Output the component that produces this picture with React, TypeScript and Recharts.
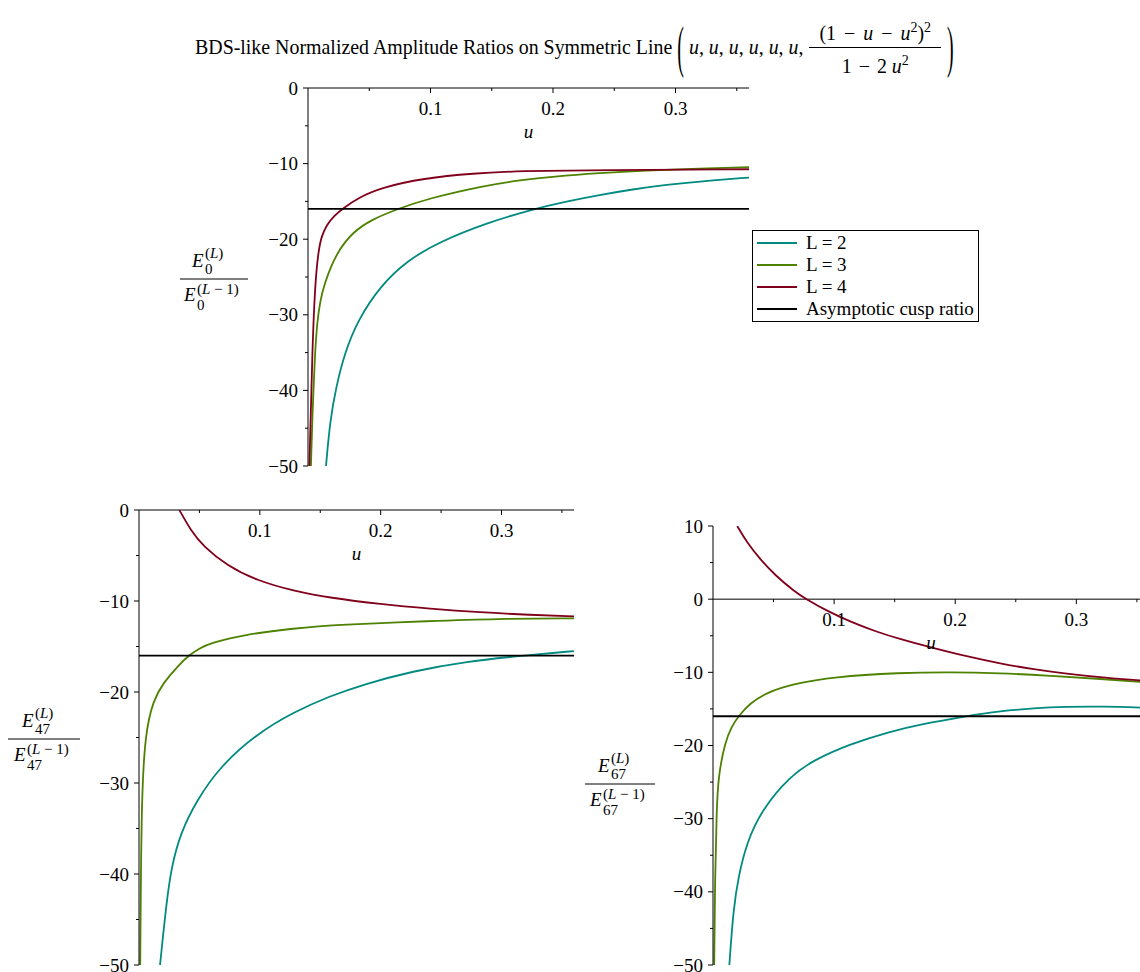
import React from 'react'
import { LineChart, Line, XAxis, YAxis, ReferenceLine, Legend } from 'recharts'

const FONT = '"Liberation Serif", "Times New Roman", serif'
const U_MAX = 0.36
const U_TICKS = [0.05, 0.1, 0.15, 0.2, 0.25, 0.3, 0.35]
const Y_TICKS_50_0 = [-50, -45, -40, -35, -30, -25, -20, -15, -10, -5, 0]
const Y_TICKS_50_10 = [-50, -45, -40, -35, -30, -25, -20, -15, -10, -5, 0, 5, 10]
const ASYMPTOTE = -16
const ASYM_U = [0, U_MAX]

const SERIES_NAMES = ['L = 2', 'L = 3', 'L = 4', 'Asymptotic cusp ratio']
const COLORS = ['#008a80', '#4d8200', '#80001c', '#000000']

// E_0 panel
const e0_L2_u = [0.0147, 0.018, 0.023, 0.03, 0.041, 0.059, 0.081, 0.108, 0.146, 0.184, 0.211, 0.238, 0.265, 0.293, 0.32, 0.36]
const e0_L2_v = [-50, -44.0, -39.5, -35.0, -30.6, -26.2, -22.8, -20.3, -17.85, -16.0, -15.0, -14.15, -13.4, -12.8, -12.35, -11.85]
const e0_L3_u = [0.0024, 0.0035, 0.0057, 0.0076, 0.01, 0.013, 0.0234, 0.037, 0.052, 0.0724, 0.097, 0.146, 0.173, 0.2, 0.238, 0.275, 0.32, 0.36]
const e0_L3_v = [-50, -43.7, -34.9, -30.8, -28.2, -26.0, -21.7, -19.0, -17.4, -16.05, -14.65, -12.85, -12.2, -11.72, -11.25, -10.92, -10.65, -10.47]
const e0_L4_u = [0.0011, 0.0022, 0.0035, 0.0057, 0.0084, 0.011, 0.0153, 0.0212, 0.0288, 0.0411, 0.0602, 0.0941, 0.135, 0.173, 0.238, 0.36]
const e0_L4_v = [-50, -43.7, -34.9, -26.1, -21.65, -19.6, -18.1, -16.9, -15.9, -14.5, -13.15, -11.95, -11.28, -10.98, -10.85, -10.75]

// E_47 panel
const e47_L2_u = [0.0174, 0.0229, 0.027, 0.034, 0.0478, 0.067, 0.0974, 0.128, 0.158, 0.186, 0.227, 0.268, 0.321, 0.36]
const e47_L2_v = [-50, -42.9, -39.2, -35.6, -31.9, -28.2, -24.6, -22.2, -20.45, -19.15, -17.7, -16.7, -15.95, -15.5]
const e47_L3_u = [0.001, 0.0014, 0.0022, 0.005, 0.0118, 0.0201, 0.0325, 0.041, 0.05, 0.0588, 0.0864, 0.128, 0.166, 0.241, 0.296, 0.36]
const e47_L3_v = [-50, -42.9, -31.9, -24.6, -20.9, -19.0, -17.1, -16.0, -15.2, -14.65, -13.7, -13.0, -12.6, -12.2, -11.95, -11.9]
const e47_L4_u = [0.0334, 0.0436, 0.053, 0.0726, 0.0974, 0.128, 0.158, 0.2, 0.241, 0.282, 0.324, 0.36]
const e47_L4_v = [0, -2.4, -3.95, -6.1, -7.75, -8.9, -9.65, -10.35, -10.85, -11.25, -11.53, -11.7]

// E_67 panel
const e67_L2_u = [0.0135, 0.0168, 0.021, 0.0278, 0.0402, 0.0636, 0.083, 0.113, 0.146, 0.17, 0.21, 0.237, 0.265, 0.292, 0.32, 0.36]
const e67_L2_v = [-50, -42.4, -37.9, -33.3, -28.8, -24.2, -22.0, -19.8, -18.1, -17.15, -15.95, -15.3, -14.9, -14.7, -14.65, -14.85]
const e67_L3_u = [0.001, 0.0017, 0.003, 0.0044, 0.0099, 0.0154, 0.021, 0.0306, 0.0444, 0.066, 0.0994, 0.1545, 0.196, 0.237, 0.2785, 0.32, 0.36]
const e67_L3_v = [-50, -37.9, -28.8, -24.2, -19.55, -17.4, -16.0, -14.2, -12.75, -11.6, -10.6, -10.05, -9.96, -10.1, -10.46, -10.9, -11.4]
const e67_L4_u = [0.02, 0.028, 0.039, 0.051, 0.068, 0.077, 0.094, 0.115, 0.135, 0.155, 0.18, 0.21, 0.237, 0.265, 0.292, 0.32, 0.36]
const e67_L4_v = [10, 7.75, 5.45, 3.3, 0.95, 0, -1.6, -3.2, -4.45, -5.5, -6.6, -7.85, -8.8, -9.6, -10.2, -10.7, -11.2]

const pts = (u: number[], v: number[]) => u.map((x, i) => ({ u: x, v: v[i] }))
const asym = pts(ASYM_U, ASYM_U.map(() => ASYMPTOTE))

const YW = 60 // y axis width
const XH = 24 // space above plot
const RM = 10
const BM = 14

const panels = [
  {
    id: 'e0', sub: '0', plotLeft: 308, plotTop: 88, plotW: 441, plotH: 378,
    yMin: -50, yMax: 0, yTicks: Y_TICKS_50_0, fracX: 214, fracY: 279, fracHalf: 34, legend: true,
    series: [pts(e0_L2_u, e0_L2_v), pts(e0_L3_u, e0_L3_v), pts(e0_L4_u, e0_L4_v), asym],
  },
  {
    id: 'e47', sub: '47', plotLeft: 139, plotTop: 510, plotW: 435, plotH: 455,
    yMin: -50, yMax: 0, yTicks: Y_TICKS_50_0, fracX: 44, fracY: 739, fracHalf: 36, legend: false,
    series: [pts(e47_L2_u, e47_L2_v), pts(e47_L3_u, e47_L3_v), pts(e47_L4_u, e47_L4_v), asym],
  },
  {
    id: 'e67', sub: '67', plotLeft: 713, plotTop: 526, plotW: 436, plotH: 439,
    yMin: -50, yMax: 10, yTicks: Y_TICKS_50_10, fracX: 620, fracY: 784, fracHalf: 35, legend: false,
    series: [pts(e67_L2_u, e67_L2_v), pts(e67_L3_u, e67_L3_v), pts(e67_L4_u, e67_L4_v), asym],
  },
]

const isMajor = (v: number, step: number) => Math.abs(v / step - Math.round(v / step)) < 1e-6

const XTick = ({ x, payload, zeroY }: any) => {
  const major = isMajor(payload.value, 0.1)
  return (
    <g>
      <line x1={x} x2={x} y1={zeroY} y2={zeroY + (major ? 5 : 3)} stroke="#000" />
      {major && (
        <text x={x} y={zeroY + 20} textAnchor="middle" dominantBaseline="central"
          fontFamily={FONT} fontSize={19} fill="#000">
          {payload.value.toFixed(1)}
        </text>
      )}
    </g>
  )
}

const YTick = ({ y, payload }: any) => {
  const major = isMajor(payload.value, 10)
  const label = payload.value < 0 ? `\u2212${Math.abs(payload.value)}` : `${payload.value}`
  return (
    <g>
      <line x1={YW - (major ? 5 : 3)} x2={YW} y1={y} y2={y} stroke="#000" />
      {major && (
        <text x={YW - 10} y={y} textAnchor="end" dominantBaseline="central"
          fontFamily={FONT} fontSize={19} fill="#000">
          {label}
        </text>
      )}
    </g>
  )
}

const LegendBox = ({ payload }: any) => {
  const items = [...(payload || [])].sort(
    (a: any, b: any) => SERIES_NAMES.indexOf(a.value) - SERIES_NAMES.indexOf(b.value)
  )
  return (
    <div style={{ border: '1px solid #000', background: '#fff', padding: '1px 4px 1px 4px',
      fontFamily: FONT, fontSize: 19, lineHeight: '22px', color: '#000', whiteSpace: 'nowrap' }}>
      {items.map((p: any) => (
        <div key={p.value} style={{ display: 'flex', alignItems: 'center' }}>
          <span style={{ display: 'inline-block', width: 40, borderTop: `2px solid ${p.color}`, marginRight: 9 }} />
          {p.value}
        </div>
      ))}
    </div>
  )
}

function YLabel({ sub, cx, barY, half }: { sub: string; cx: number; barY: number; half: number }) {
  const w = 100
  const h = 80
  const c = w / 2
  const b = 36
  return (
    <svg width={w} height={h} style={{ position: 'absolute', left: cx - c, top: barY - b, overflow: 'visible' }}
      fontFamily={FONT} fill="#000">
      <text x={c - 22} y={b - 12} fontSize={19} fontStyle="italic">E</text>
      <text x={c - 9} y={b - 21} fontSize={15}>(<tspan fontStyle="italic">L</tspan>)</text>
      <text x={c - 9} y={b - 5} fontSize={15}>{sub}</text>
      <line x1={c - half} x2={c + half} y1={b} y2={b} stroke="#000" strokeWidth={1} />
      <text x={c - 30} y={b + 22} fontSize={19} fontStyle="italic">E</text>
      <text x={c - 17} y={b + 15} fontSize={15}>(<tspan fontStyle="italic">L</tspan> {'\u2212'} 1)</text>
      <text x={c - 17} y={b + 31} fontSize={15}>{sub}</text>
    </svg>
  )
}

const BigParen = ({ ch, ml = 5, mr = 5 }: { ch: string; ml?: number; mr?: number }) => (
  <span style={{ display: 'inline-block', transform: 'scaleY(2.9)', fontWeight: 300, margin: `0 ${mr}px 0 ${ml}px` }}>{ch}</span>
)

const Op = ({ ch, gap = 7 }: { ch: string; gap?: number }) => <span style={{ margin: `0 ${gap}px` }}>{ch}</span>
const Sq = () => <sup style={{ fontSize: 14 }}>2</sup>

function Title() {
  return (
    <div style={{ position: 'absolute', left: 195, top: 17, height: 60, display: 'flex', alignItems: 'center',
      fontFamily: FONT, fontSize: 19.9, whiteSpace: 'nowrap', color: '#000' }}>
      <span>BDS-like Normalized Amplitude Ratios on Symmetric Line</span>
      <BigParen ch="(" />
      <span>
        {[0, 1, 2, 3, 4, 5].map((i) => (
          <React.Fragment key={i}><i>u</i>,{' '}</React.Fragment>
        ))}
      </span>
      <span style={{ display: 'inline-flex', flexDirection: 'column', alignItems: 'center', margin: '0 4px 0 6px' }}>
        <span style={{ padding: '0 10px 1px', lineHeight: '26px' }}>
          (1<Op ch={'\u2212'} gap={8} /><i>u</i><Op ch={'\u2212'} gap={8} /><i>u</i><Sq />)<Sq />
        </span>
        <span style={{ borderTop: '1px solid #000', alignSelf: 'stretch', textAlign: 'center', lineHeight: '26px' }}>
          1<Op ch={'\u2212'} />2 <i>u</i><Sq />
        </span>
      </span>
      <BigParen ch=")" ml={2} />
    </div>
  )
}

function Panel({ p }: { p: (typeof panels)[number] }) {
  const width = YW + p.plotW + RM
  const height = XH + p.plotH + BM
  const zeroY = XH + (p.plotH * p.yMax) / (p.yMax - p.yMin)
  const chartLeft = p.plotLeft - YW
  const chartTop = p.plotTop - XH
  return (
    <>
      <div style={{ position: 'absolute', left: chartLeft, top: chartTop }}>
        <LineChart width={width} height={height} margin={{ top: 0, right: RM, bottom: BM, left: 0 }}>
          <XAxis type="number" dataKey="u" domain={[0, U_MAX]} allowDataOverflow orientation="top"
            height={XH} ticks={U_TICKS} interval={0} axisLine={false} tickLine={false}
            tick={(props: any) => <XTick {...props} zeroY={zeroY} />} />
          <YAxis type="number" domain={[p.yMin, p.yMax]} allowDataOverflow width={YW}
            ticks={p.yTicks} interval={0} axisLine={{ stroke: '#000' }} tickLine={false}
            tick={(props: any) => <YTick {...props} />} />
          <ReferenceLine y={0} stroke="#000" strokeWidth={1} />
          {p.series.map((d, i) => (
            <Line key={SERIES_NAMES[i]} data={d} dataKey="v" name={SERIES_NAMES[i]} type="basis"
              stroke={COLORS[i]} strokeWidth={1.8} dot={false} activeDot={false} isAnimationActive={false} />
          ))}
          {p.legend && (
            <Legend layout="horizontal" verticalAlign="middle" align="center"
              wrapperStyle={{ position: 'absolute', left: 752 - chartLeft, top: 230 - chartTop, width: 'auto', height: 'auto' }}
              content={<LegendBox />} />
          )}
        </LineChart>
      </div>
      <div style={{ position: 'absolute', left: p.plotLeft + p.plotW / 2, top: p.plotTop + zeroY - XH + 44,
        transform: 'translate(-50%, -50%)', fontFamily: FONT, fontSize: 19, fontStyle: 'italic' }}>u</div>
      <YLabel sub={p.sub} cx={p.fracX} barY={p.fracY} half={p.fracHalf} />
    </>
  )
}

export default function App() {
  return (
    <div style={{ position: 'absolute', left: 0, top: 0, width: 1140, height: 972, overflow: 'hidden', background: '#fff' }}>
      <Title />
      {panels.map((p) => (
        <Panel key={p.id} p={p} />
      ))}
    </div>
  )
}
